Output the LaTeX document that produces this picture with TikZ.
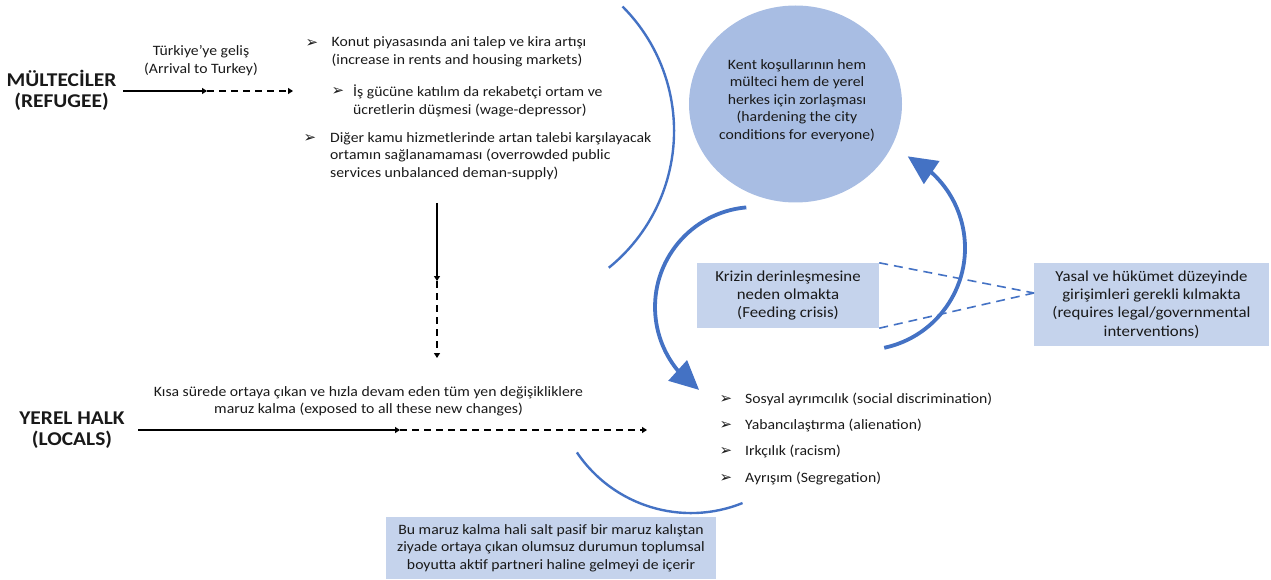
\documentclass[tikz,border=0pt]{standalone}
\usepackage{fontspec}
\setmainfont{Carlito}[FakeStretch=1.1]
\newfontfamily\bulletfont{DejaVu Sans}
\usetikzlibrary{arrows.meta,bending,shapes.geometric}
\definecolor{accent}{RGB}{68,114,196}
\definecolor{circfill}{RGB}{168,189,227}
\definecolor{boxfill}{RGB}{197,211,236}
\definecolor{txt}{RGB}{25,25,25}
\begin{document}
\begin{tikzpicture}[x=1pt,y=1pt,
  txtbase/.style={inner sep=0pt, text=txt, font=\fontsize{14.3}{17.5}\selectfont},
  lefttext/.style={txtbase, align=left, anchor=west},
  centertext/.style={txtbase, align=center},
  biglabel/.style={inner sep=0pt, text=txt, font=\fontsize{19.5}{21}\selectfont\bfseries, align=center},
  bulletmark/.style={inner sep=0pt, text=txt, font=\bulletfont\fontsize{15}{15}\selectfont},
  blackarrow/.style={line width=1.4pt, black, -{Triangle[width=6pt,length=5pt]}},
  dasharrow/.style={blackarrow, dash pattern=on 7pt off 5pt},
  thinarc/.style={accent, line width=2.4pt},
  thickarrow/.style={accent, line width=3.8pt, -{Triangle[width=27pt,length=29pt,flex]}},
  infobox/.style={centertext, fill=boxfill},
  sidebox/.style={infobox, font=\fontsize{15.3}{18.2}\selectfont},
  bluedash/.style={accent, line width=1.6pt, dash pattern=on 9pt off 6pt}
]
\useasboundingbox (0,0) rectangle (1271,-580);

% big circle
\node[ellipse, fill=circfill, minimum width=213pt, minimum height=197pt, inner sep=0pt] (kent) at (795.5,-104) {};
\node[centertext] (kenttxt) at (797,-100.5) {Kent koşullarının hem\\mülteci hem de yerel\\herkes için zorlaşması\\(hardening the city\\conditions for everyone)};

% boxes
\node[sidebox, minimum width=182pt, minimum height=65pt] (kriz) at (788,-295.5) {Krizin derinleşmesine\\neden olmakta\\(Feeding crisis)};
\node[sidebox, minimum width=235pt, minimum height=83pt] (yasal) at (1151.5,-304.5) {Yasal ve hükümet düzeyinde\\girişimleri gerekli kılmakta\\(requires legal/governmental\\interventions)};
\node[infobox, minimum width=330pt, minimum height=62pt] (maruz) at (551,-548) {Bu maruz kalma hali salt pasif bir maruz kalıştan\\ziyade ortaya çıkan olumsuz durumun toplumsal\\boyutta aktif partneri haline gelmeyi de içerir};

\coordinate (meet) at (1034,-293);
\draw[bluedash] (kriz.north east) -- (meet);
\draw[bluedash] (kriz.south east) -- (meet);

% side labels
\node[biglabel] (mult) at (61.5,-90) {MÜLTECİLER\\(REFUGEE)};
\node[biglabel] (yerel) at (72,-430) {YEREL HALK\\(LOCALS)};

% refugee arrow
\coordinate (r1) at (123,-91);
\coordinate (r2) at (207,-91);
\coordinate (r3) at (293,-91);
\draw[blackarrow] (r1) -- (r2);
\draw[dasharrow] (r2) -- (r3);
\node[centertext] (arrival) at (201,-60.5) {Türkiye’ye geliş\\(Arrival to Turkey)};

% top bullets
\node[bulletmark] (b1) at (312,-43.5) {➢};
\node[lefttext] (t1) at (331.5,-52) {Konut piyasasında ani talep ve kira artışı\\(increase in rents and housing markets)};
\node[bulletmark] (b2) at (338,-92) {➢};
\node[lefttext] (t2) at (353,-101) {İş gücüne katılım da rekabetçi ortam ve\\ücretlerin düşmesi (wage-depressor)};
\node[bulletmark] (b3) at (310,-138.5) {➢};
\node[lefttext] (t3) at (330,-156) {Diğer kamu hizmetlerinde artan talebi karşılayacak\\ortamın sağlanamaması (overrowded public\\services unbalanced deman-supply)};

% vertical arrow
\coordinate (v1) at (437,-203);
\coordinate (v2) at (437,-281);
\coordinate (v3) at (437,-358);
\draw[blackarrow] (v1) -- (v2);
\draw[dasharrow] (v2) -- (v3);

% locals arrow
\coordinate (l1) at (138,-430);
\coordinate (l2) at (400,-430);
\coordinate (l3) at (647,-430);
\draw[blackarrow] (l1) -- (l2);
\draw[dasharrow] (l2) -- (l3);
\node[centertext] (exposed) at (368.5,-401.5) {Kısa sürede ortaya çıkan ve hızla devam eden tüm yen değişikliklere\\maruz kalma (exposed to all these new changes)};

% bottom bullets
\node[bulletmark] (c1) at (726,-399) {➢};
\node[lefttext] (s1) at (745,-399) {Sosyal ayrımcılık (social discrimination)};
\node[bulletmark] (c2) at (726,-425) {➢};
\node[lefttext] (s2) at (745,-425) {Yabancılaştırma (alienation)};
\node[bulletmark] (c3) at (726,-451) {➢};
\node[lefttext] (s3) at (745,-451) {Irkçılık (racism)};
\node[bulletmark] (c4) at (726,-478) {➢};
\node[lefttext] (s4) at (745,-478) {Ayrışım (Segregation)};

% arcs
\coordinate (bigs) at (622.5,-6.5);
\draw[thinarc] (bigs) arc[start angle=45, end angle=-51, radius=176];
\coordinate (bots) at (576.9,-452.4);
\draw[thinarc] (bots) arc[start angle=214, end angle=292, radius=137.6];
\coordinate (a1s) at (746.3,-207.4);
\draw[thickarrow] (a1s) arc[start angle=95, end angle=236, radius=100];
\coordinate (a2s) at (884.2,-347.8);
\draw[thickarrow] (a2s) arc[start angle=-78, end angle=64, radius=102];
\end{tikzpicture}
\end{document}
